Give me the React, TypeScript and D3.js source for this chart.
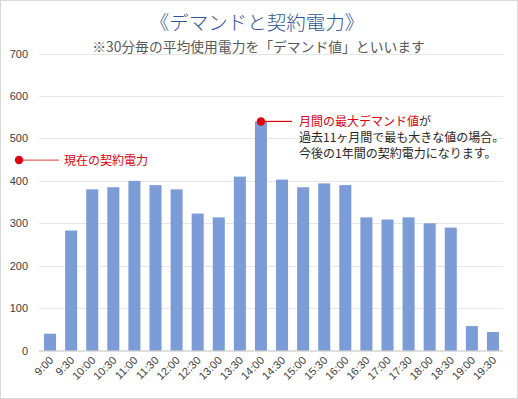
import React from "react";
import * as d3 from "d3";

const categories = ["9:00","9:30","10:00","10:30","11:00","11:30","12:00","12:30","13:00","13:30","14:00","14:30","15:00","15:30","16:00","16:30","17:00","17:30","18:00","18:30","19:00","19:30"];
const demand = [40,283,380,385,400,390,380,323,314,410,540,403,385,394,390,314,309,314,300,290,58,44];
const yTicks = [0,100,200,300,400,500,600,700];
const contractPower = 449;
const peakCategory = "14:00";
const peakValue = 540;

const title = "《デマンドと契約電力》";
const subtitle = "※30分毎の平均使用電力を「デマンド値」といいます";
const contractLabel = "現在の契約電力";
const peakLabelRed = "月間の最大デマンド値";
const peakLabelRest = "が";
const peakLines = ["過去11ヶ月間で最も大きな値の場合。", "今後の1年間の契約電力になります。"];

const W = 518, H = 399;
const JP = "'Noto Sans CJK JP', 'Noto Sans', sans-serif";
const NUM = "'Liberation Sans', Arial, sans-serif";

export default function App() {
  const x = d3.scaleBand<string>().domain(categories).range([39.5, 503.5]).paddingInner(0.43).paddingOuter(0.215);
  const y = d3.scaleLinear().domain([0, 700]).range([350.7, 53.5]);
  const bw = x.bandwidth();
  const peakX = (x(peakCategory) as number) + bw / 2;
  const peakY = y(peakValue);
  const cY = y(contractPower);

  return (
    <svg width={W} height={H} style={{ position: "absolute", left: 0, top: 0, background: "#fff" }}>
      <rect x={0.5} y={0.5} width={W - 1} height={H - 1} fill="#fff" stroke="#d9d9d9" />
      <text x={257} y={30} textAnchor="middle" fontFamily={JP} fontSize={19.5} fill="#2F5597" fontWeight={300}>{title}</text>
      <text x={258.5} y={51.5} textAnchor="middle" fontFamily={JP} fontSize={13.8} fill="#595959">{subtitle}</text>
      {yTicks.map(t => (
        <g key={t}>
          {t > 0 && <line x1={39} x2={503} y1={Math.round(y(t)) + 0.5} y2={Math.round(y(t)) + 0.5} stroke="#e6e6e6" />}
          <text x={28} y={y(t) + 4} textAnchor="end" fontFamily={NUM} fontSize={11} fill="#404040">{t}</text>
        </g>
      ))}
      {categories.map((c, i) => (
        <rect key={c} x={x(c)} y={y(demand[i])} width={bw} height={y(0) - y(demand[i])} fill="#7B9CD6" />
      ))}
      <line x1={39} x2={503} y1={351} y2={351} stroke="#bfbfbf" />
      {categories.map(c => {
        const cx = (x(c) as number) + bw / 2 + 4;
        return (
          <text key={c} transform={`translate(${cx},361) rotate(-45)`} textAnchor="end" fontFamily={NUM} fontSize={11} fill="#404040">{c}</text>
        );
      })}
      {/* contract power annotation */}
      <line x1={19} x2={59} y1={cY} y2={cY} stroke="#e06666" strokeWidth={1.2} />
      <circle cx={19} cy={cY} r={4.2} fill="#e00012" />
      <text x={64} y={cY + 4.5} fontFamily={JP} fontSize={12} fill="#e00012">{contractLabel}</text>
      {/* peak annotation */}
      <line x1={peakX} x2={292} y1={peakY} y2={peakY} stroke="#e00012" strokeWidth={1.2} />
      <circle cx={peakX} cy={peakY} r={4.2} fill="#e00012" />
      <text x={299} y={peakY + 4.5} fontFamily={JP} fontSize={12} fill="#262626">
        <tspan fill="#e00012">{peakLabelRed}</tspan>
        <tspan>{peakLabelRest}</tspan>
      </text>
      {peakLines.map((l, i) => (
        <text key={i} x={299} y={peakY + 4.5 + 16 * (i + 1)} fontFamily={JP} fontSize={12} fill="#262626">{l}</text>
      ))}
    </svg>
  );
}
